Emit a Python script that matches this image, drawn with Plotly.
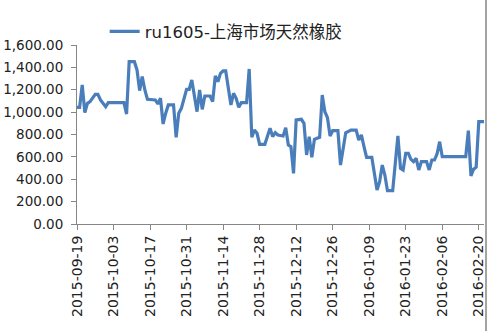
import plotly.graph_objects as go

dates = [
    "2015-09-19", "2015-09-20", "2015-09-21", "2015-09-22", "2015-09-23", "2015-09-24",
    "2015-09-26", "2015-09-27", "2015-09-28", "2015-09-30", "2015-10-01", "2015-10-07",
    "2015-10-08", "2015-10-09", "2015-10-11", "2015-10-12", "2015-10-13", "2015-10-14",
    "2015-10-15", "2015-10-16", "2015-10-19", "2015-10-20", "2015-10-21", "2015-10-22",
    "2015-10-23", "2015-10-24", "2015-10-26", "2015-10-27", "2015-10-28", "2015-10-29",
    "2015-10-31", "2015-11-01", "2015-11-02", "2015-11-04", "2015-11-05", "2015-11-06",
    "2015-11-07", "2015-11-09", "2015-11-10", "2015-11-11", "2015-11-12", "2015-11-13",
    "2015-11-14", "2015-11-15", "2015-11-17", "2015-11-18", "2015-11-19", "2015-11-20",
    "2015-11-21", "2015-11-23", "2015-11-24", "2015-11-25", "2015-11-26", "2015-11-27",
    "2015-11-28", "2015-11-30", "2015-12-02", "2015-12-03", "2015-12-04", "2015-12-05",
    "2015-12-07", "2015-12-08", "2015-12-09", "2015-12-10", "2015-12-11", "2015-12-12",
    "2015-12-14", "2015-12-15", "2015-12-16", "2015-12-17", "2015-12-18", "2015-12-19",
    "2015-12-20", "2015-12-21", "2015-12-22", "2015-12-23", "2015-12-24", "2015-12-25",
    "2015-12-26", "2015-12-28", "2015-12-29", "2015-12-30", "2015-12-31", "2016-01-02",
    "2016-01-04", "2016-01-05", "2016-01-06", "2016-01-07", "2016-01-08", "2016-01-10",
    "2016-01-12", "2016-01-13", "2016-01-14", "2016-01-15", "2016-01-16", "2016-01-18",
    "2016-01-19", "2016-01-20", "2016-01-21", "2016-01-22", "2016-01-23", "2016-01-24",
    "2016-01-25", "2016-01-26", "2016-01-27", "2016-01-28", "2016-01-29", "2016-01-31",
    "2016-02-01", "2016-02-02", "2016-02-03", "2016-02-04", "2016-02-05", "2016-02-06",
    "2016-02-15", "2016-02-16", "2016-02-17", "2016-02-18", "2016-02-19", "2016-02-20",
    "2016-02-22",
]

prices = [
    1043, 1043, 1243, 995, 1079, 1094,
    1159, 1159, 1109, 1049, 1085, 1085,
    983, 1451, 1451, 1377, 1192, 1317,
    1198, 1115, 1109, 1073, 1124, 894,
    990, 1064, 1064, 775, 990, 1034,
    1204, 1204, 1287, 1004, 1198, 1025,
    1144, 1144, 1094, 1323, 1272, 1347,
    1368, 1368, 1064, 1168, 1124, 1043,
    1085, 1085, 1386, 775, 840, 811,
    712, 712, 855, 781, 816, 796,
    787, 861, 706, 691, 453, 930,
    936, 900, 617, 781, 596, 757,
    766, 775, 1153, 1004, 950, 787,
    834, 834, 527, 691, 816, 840,
    840, 751, 796, 691, 596, 596,
    304, 378, 527, 438, 298, 298,
    572, 787, 498, 483, 632, 632,
    578, 557, 587, 483, 557, 557,
    483, 572, 572, 626, 736, 602,
    602, 834, 429, 489, 507, 915,
    915,
]

series_name = "ru1605-上海市场天然橡胶"
y_ticks = [0, 200, 400, 600, 800, 1000, 1200, 1400, 1600]
x_range = ["2015-09-19", "2016-02-22"]

fig = go.Figure()
fig.add_trace(go.Scatter(
    x=dates, y=prices, mode="lines", name=series_name,
    line=dict(color="#4A7EBB", width=3.2),
))

font_family = "DejaVu Sans, Noto Sans CJK SC, sans-serif"

fig.update_layout(
    width=489, height=331,
    margin=dict(l=77, r=3, t=45, b=107),
    paper_bgcolor="white", plot_bgcolor="white",
    font=dict(family=font_family, color="#222222"),
    showlegend=True,
    legend=dict(
        x=0.068, y=1.075, xanchor="left", yanchor="middle",
        orientation="h", font=dict(size=16.5, family=font_family, color="#222222"),
        bgcolor="rgba(0,0,0,0)", itemwidth=30,
    ),
    xaxis=dict(
        type="date", range=x_range,
        tick0="2015-09-19", dtick=14 * 86400000, tickformat="%Y-%m-%d",
        tickangle=-90, tickfont=dict(size=14, family=font_family, color="#222222"),
        showgrid=False, zeroline=False,
        showline=True, linecolor="#868686", linewidth=1,
        ticks="outside", ticklen=5, tickcolor="#868686",
    ),
    yaxis=dict(
        range=[0, 1600], tickvals=y_ticks, tickformat=",.2f",
        tickfont=dict(size=13.5, family=font_family, color="#222222"),
        showgrid=False, zeroline=False,
        showline=True, linecolor="#868686", linewidth=1,
        ticks="outside", ticklen=5, tickcolor="#868686",
        ticklabelstandoff=5,
    ),
    shapes=[dict(
        type="line", xref="paper", yref="paper",
        x0=1.0049, x1=1.0049, y0=-0.62, y1=1.27,
        line=dict(color="#868686", width=1.5),
    )],
)

fig.write_html("out.html")
